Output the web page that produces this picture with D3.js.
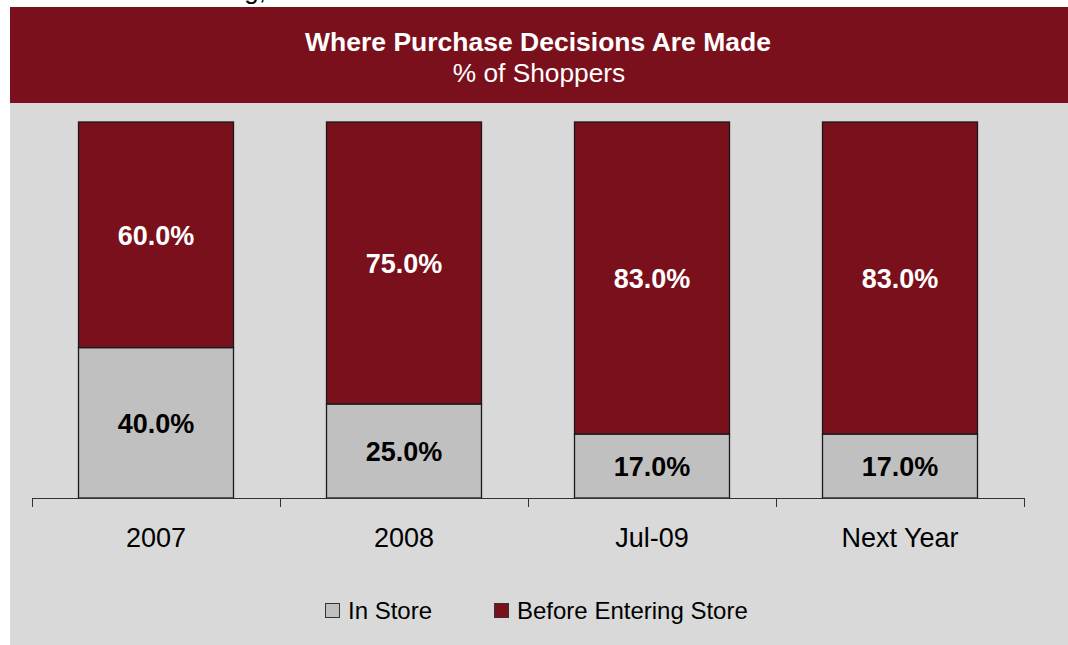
<!DOCTYPE html>
<html><head><meta charset="utf-8">
<script src="https://cdn.jsdelivr.net/npm/d3@7"></script>
<style>html,body{margin:0;padding:0;background:#fff;}svg{display:block;font-family:"Liberation Sans",Arial,sans-serif;}</style>
</head><body>
<svg id="c" width="1068" height="645"></svg>
<script>
const categories = ["2007", "2008", "Jul-09", "Next Year"];
const inStore = [40, 25, 17, 17];
const beforeStore = [60, 75, 83, 83];
const seriesNames = ["In Store", "Before Entering Store"];
const colors = ["#C0C0C0", "#7A101C"];
const labelColors = ["#000", "#fff"];

const svg = d3.select("#c");
const W = 1068, H = 645;

// Partially visible text above the panel (cut off in the original)
svg.append("text").attr("x", 266).attr("y", -1).attr("text-anchor", "end")
  .attr("font-size", 26).attr("fill", "#000").text("Marketing,");

// panel
svg.append("rect").attr("x", 10).attr("y", 7).attr("width", W - 10).attr("height", H - 7).attr("fill", "#D9D9D9");
svg.append("rect").attr("x", 10).attr("y", 7).attr("width", W - 10).attr("height", 96).attr("fill", "#7A101C");

svg.append("text").attr("x", 538).attr("y", 51).attr("text-anchor", "middle")
  .attr("font-size", 26.5).attr("font-weight", "bold").attr("fill", "#fff").text("Where Purchase Decisions Are Made");
svg.append("text").attr("x", 539).attr("y", 82).attr("text-anchor", "middle")
  .attr("font-size", 26.3).attr("fill", "#fff").text("% of Shoppers");

const x = d3.scaleBand().domain(categories).range([32, 1024]).paddingInner(0.375).paddingOuter(0.1875);
const y = d3.scaleLinear().domain([0, 100]).range([498, 122]);

const data = categories.map((c, i) => ({cat: c, vals: [inStore[i], beforeStore[i]]}));
const stack = d3.stack().keys([0, 1]).value((d, k) => d.vals[k]);
const layers = stack(data);

layers.forEach((layer, li) => {
  const g = svg.append("g");
  g.selectAll("rect").data(layer).join("rect")
    .attr("x", d => x(d.data.cat))
    .attr("y", d => y(d[1]))
    .attr("width", x.bandwidth())
    .attr("height", d => y(d[0]) - y(d[1]))
    .attr("fill", colors[li])
    .attr("stroke", "#1a1a1a").attr("stroke-width", 1.3);
  g.selectAll("text").data(layer).join("text")
    .attr("x", d => x(d.data.cat) + x.bandwidth() / 2)
    .attr("y", d => (y(d[0]) + y(d[1])) / 2 + 10)
    .attr("text-anchor", "middle").attr("font-size", 27).attr("font-weight", "bold")
    .attr("fill", labelColors[li])
    .text(d => (d[1] - d[0]).toFixed(1) + "%");
});

// axis
const axis = svg.append("g");
axis.append("line").attr("x1", 32).attr("x2", 1024).attr("y1", 498.5).attr("y2", 498.5).attr("stroke", "#333").attr("stroke-width", 1);
const step = x.step();
d3.range(categories.length + 1).forEach(i => {
  const tx = Math.round(32 + i * step) + 0.5;
  axis.append("line").attr("x1", tx).attr("x2", tx).attr("y1", 498).attr("y2", 507).attr("stroke", "#333");
});
axis.selectAll("text.cat").data(categories).join("text").attr("class", "cat")
  .attr("x", d => x(d) + x.bandwidth() / 2).attr("y", 547)
  .attr("text-anchor", "middle").attr("font-size", 27).attr("fill", "#000").text(d => d);

// legend
const legendItems = [{x: 325, name: seriesNames[0], c: colors[0]}, {x: 494, name: seriesNames[1], c: colors[1]}];
const lg = svg.append("g");
legendItems.forEach(it => {
  lg.append("rect").attr("x", it.x + 0.5).attr("y", 603.5).attr("width", 14).attr("height", 14)
    .attr("fill", it.c).attr("stroke", "#333").attr("stroke-width", 1);
  lg.append("text").attr("x", it.x + 23).attr("y", 619).attr("font-size", 24).attr("fill", "#000").text(it.name);
});
</script>
</body></html>
